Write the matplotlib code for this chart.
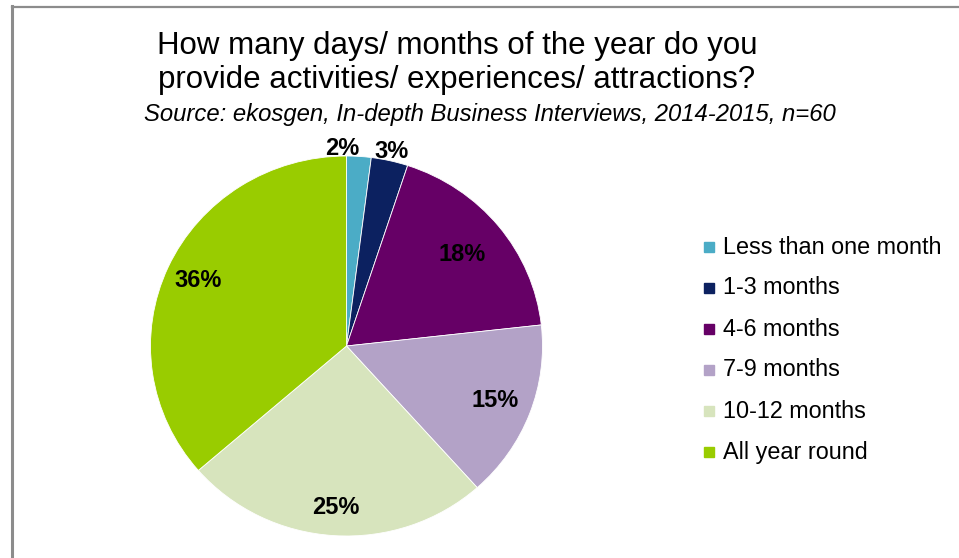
import numpy as np
import matplotlib.pyplot as plt

categories = ["Less than one month", "1-3 months", "4-6 months",
              "7-9 months", "10-12 months", "All year round"]
shares = [2, 3, 18, 15, 25, 36]
colors = ["#4BACC6", "#0C2160", "#660066", "#B3A2C7", "#D7E4BD", "#99CC00"]
label_dist = [1.04, 1.05, 0.76, 0.81, 0.85, 0.83]
label_ha = ["right", "center", "center", "center", "center", "center"]

plt.rcParams['font.family'] = ['Liberation Sans', 'DejaVu Sans']

W, H = 959, 558
fig = plt.figure(figsize=(W / 100, H / 100), dpi=100)

# grey frame (left and top edges visible)
fig.add_artist(plt.Line2D([11.5 / W, 11.5 / W], [0, 1 - 6 / H], color="#8c8c8c", lw=2.2))
fig.add_artist(plt.Line2D([11.5 / W, 1], [1 - 6.5 / H, 1 - 6.5 / H], color="#8c8c8c", lw=1.6))

# pie is drawn slightly wider than tall
cx, cy, rx, ry = 346.5, H - 346, 196, 190
ax = fig.add_axes([(cx - rx) / W, (cy - ry) / H, 2 * rx / W, 2 * ry / H])

wedges, _ = ax.pie(shares, colors=colors, startangle=90, counterclock=False,
                   radius=1, wedgeprops=dict(edgecolor="white", linewidth=0.6))
ax.set_xlim(-1, 1)
ax.set_ylim(-1, 1)
ax.set_aspect('auto')
ax.axis('off')

for w, v, d, ha in zip(wedges, shares, label_dist, label_ha):
    ang = np.deg2rad((w.theta1 + w.theta2) / 2)
    ax.text(d * np.cos(ang), d * np.sin(ang), f"{v}%", ha=ha, va="center",
            fontsize=17, fontweight="bold", color="black", clip_on=False)

fig.text(457 / W, 1 - 46 / H, "How many days/ months of the year do you",
         ha="center", va="center", fontsize=22.5)
fig.text(457 / W, 1 - 80 / H, "provide activities/ experiences/ attractions?",
         ha="center", va="center", fontsize=22.5)
fig.text(490 / W, 1 - 114 / H, "Source: ekosgen, In-depth Business Interviews, 2014-2015, n=60",
         ha="center", va="center", fontsize=17.2, style="italic")

# legend
for i, (lab, c) in enumerate(zip(categories, colors)):
    y = 1 - (247 + 41 * i) / H
    fig.patches.append(plt.Rectangle((704 / W, y - 5 / H), 10 / W, 10 / H,
                                     transform=fig.transFigure, color=c))
    fig.text(723 / W, y, lab, ha="left", va="center", fontsize=16.8)

plt.savefig("out.png", dpi=100)
